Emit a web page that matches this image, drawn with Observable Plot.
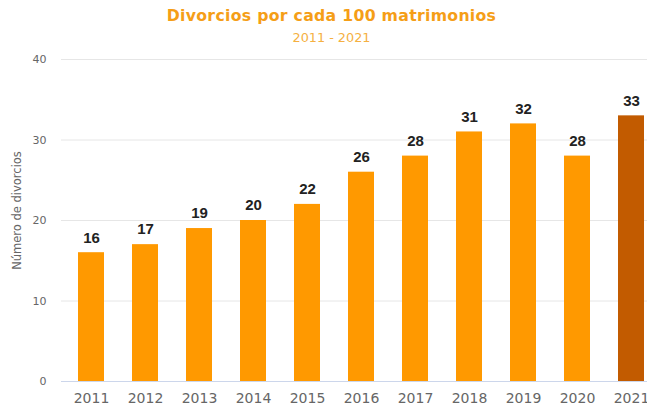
<!DOCTYPE html>
<html>
<head>
<meta charset="utf-8">
<script src="https://cdn.jsdelivr.net/npm/d3@7"></script>
<script src="https://cdn.jsdelivr.net/npm/@observablehq/plot@0.6"></script>
<style>
  html, body { margin: 0; padding: 0; background: #fff; overflow: hidden; }
  #wrap { position: relative; width: 647px; height: 408px; overflow: hidden; }
  #title { position: absolute; left: 16px; width: 631px; top: 6px; height: 20px; line-height: 20px;
    text-align: center; font-family: "DejaVu Sans", sans-serif; font-weight: bold; font-size: 15.7px;
    color: #F59E17; letter-spacing: 0.3px; }
  #subtitle { position: absolute; left: 16px; width: 631px; top: 30px; height: 16px; line-height: 16px;
    text-align: center; font-family: "DejaVu Sans", sans-serif; font-size: 12.8px; color: #F5B041; }
  #chart { position: absolute; left: 0; top: 50px; }
</style>
</head>
<body>
<div id="wrap">
  <div id="title"></div>
  <div id="subtitle"></div>
  <div id="chart"></div>
</div>
<script>
const titleText = "Divorcios por cada 100 matrimonios";
const subtitleText = "2011 - 2021";
const yLabel = "Número de divorcios";
const years = ["2011","2012","2013","2014","2015","2016","2017","2018","2019","2020","2021"];
const values = [16, 17, 19, 20, 22, 26, 28, 31, 32, 28, 33];
const highlightYear = "2021";
const yTicks = [0, 10, 20, 30, 40];

document.getElementById("title").textContent = titleText;
document.getElementById("subtitle").textContent = subtitleText;

const data = years.map((y, i) => ({year: y, value: values[i]}));
const orange = "#FF9900";
const dark = "#C25B00";

const chart = Plot.plot({
  width: 647,
  height: 358,
  marginLeft: 61,
  marginRight: 0,
  marginTop: 9,
  marginBottom: 27,
  x: {domain: years, range: [61, 660], paddingInner: 0.52, paddingOuter: 0.26, align: 0.5, label: null},
  y: {domain: [0, 40], range: [331, 9], label: null},
  style: {fontFamily: "DejaVu Sans, sans-serif", background: "white"},
  marks: [
    Plot.ruleY(yTicks.filter(t => t > 0), {stroke: "#e6e6e6", strokeWidth: 1}),
    Plot.barY(data, {x: "year", y: "value", fill: d => d.year === highlightYear ? dark : orange}),
    Plot.ruleY([0], {stroke: "#ccd6eb", strokeWidth: 1}),
    Plot.text(data, {x: "year", y: "value", text: d => String(d.value), dy: -15,
      fontFamily: "Liberation Sans, Arial, sans-serif", fontWeight: "bold", fontSize: 15, fill: "#222"}),
    Plot.axisY({ticks: yTicks, tickSize: 0, tickPadding: 15, fontSize: 11, color: "#666", label: null}),
    Plot.axisX({tickSize: 0, tickPadding: 12, fontSize: 14, color: "#666", label: null}),
    Plot.text([yLabel], {frameAnchor: "left", textAnchor: "middle", dx: -44, dy: -10, rotate: -90, fontSize: 11.5, fill: "#666"})
  ]
});
document.getElementById("chart").appendChild(chart);
</script>
</body>
</html>
